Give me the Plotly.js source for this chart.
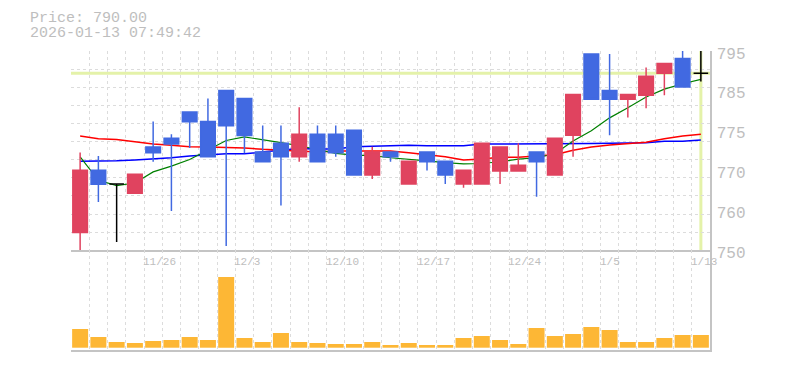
<!DOCTYPE html>
<html><head><meta charset="utf-8">
<script src="https://cdn.plot.ly/plotly-3.0.1.min.js"></script>
<style>html,body{margin:0;padding:0;background:#fff}#chart{width:785px;height:370px}</style>
</head><body><div id="chart"></div>
<script>
const dates = ["2025-11-19","2025-11-20","2025-11-21","2025-11-25","2025-11-26","2025-11-27","2025-11-28",
  "2025-12-01","2025-12-02","2025-12-03","2025-12-04","2025-12-05","2025-12-08","2025-12-09","2025-12-10",
  "2025-12-11","2025-12-12","2025-12-15","2025-12-16","2025-12-17","2025-12-18","2025-12-19","2025-12-22",
  "2025-12-23","2025-12-24","2025-12-25","2025-12-26","2025-12-29","2025-12-30","2026-01-05","2026-01-06",
  "2026-01-07","2026-01-08","2026-01-09","2026-01-13"];
const open  = [754.0,768.1,765.0,762.9,773.3,775.3,781.2,779.1,786.1,784.3,772.2,774.2,771.1,776.2,776.2,777.1,767.0,772.2,765.0,772.2,770.1,765.0,765.0,767.9,767.9,772.2,767.0,776.0,794.3,786.1,784.1,785.0,790.0,793.3,790.0];
const high  = [772.1,771.3,765.0,767.2,779.1,776.2,781.2,784.3,786.1,784.3,778.2,778.2,782.3,778.2,778.2,777.1,773.4,772.2,770.1,772.2,770.1,768.1,774.2,773.3,774.2,772.2,775.3,785.2,794.3,794.3,785.2,791.3,792.2,796.0,796.0];
const low   = [750.0,760.9,751.9,762.9,770.0,758.9,773.1,771.1,751.0,771.9,770.0,760.1,770.0,770.0,771.1,767.0,766.1,770.0,765.0,768.0,765.0,764.1,765.0,765.0,767.9,762.1,767.0,771.1,784.1,776.0,780.0,782.1,785.0,786.9,788.1];
const close = [768.1,764.9,765.0,767.2,772.0,774.0,779.0,771.1,778.1,775.9,770.0,771.1,776.2,770.0,772.0,767.0,772.2,771.1,770.1,770.0,767.0,768.1,774.2,773.3,769.2,770.0,775.3,785.2,784.1,784.1,785.2,789.3,792.2,786.9,790.0];
const volume = [187,107,57,47,67,77,107,77,707,97,57,147,57,47,37,37,57,27,47,27,27,97,117,77,37,197,117,137,207,177,57,57,97,127,127];
const ma5  = [771.1,765.8,764.6,765.2,767.7,769.0,770.5,772.6,774.8,775.6,775.0,774.3,773.6,772.7,771.9,771.5,771.4,770.9,770.6,770.2,769.8,769.5,769.6,770.0,770.6,770.9,771.8,774.7,777.0,779.9,782.2,784.6,786.4,787.6,788.6];
const ma25 = [775.8,775.2,775.0,774.5,774.0,773.7,773.4,773.3,773.2,773.1,772.8,772.6,772.4,772.2,772.4,772.4,772.4,772.4,772.0,771.6,771.1,770.4,770.6,771.0,771.0,771.3,771.6,772.6,773.3,773.8,774.1,774.4,775.2,775.8,776.2];
const ma75 = [770.1,770.1,770.2,770.4,770.6,770.9,771.3,771.6,771.8,771.8,772.2,772.7,773.0,772.9,772.9,773.4,773.5,773.5,773.7,773.6,773.6,773.6,774.0,774.0,774.0,774.0,774.0,774.0,774.1,774.2,774.3,774.3,774.6,774.6,774.9];
const xTickDates = ["2025-11-26","2025-12-03","2025-12-10","2025-12-17","2025-12-24","2026-01-05","2026-01-13"];
const xTickText  = ["11/26","12/3","12/10","12/17","12/24","1/5","1/13"];
const yTickVals  = [795,786,777,768,759,750];
const yTickText  = ["795","785","775","770","760","750"];
const priceText = "Price: 790.00";
const stampText = "2026-01-13 07:49:42";

const RED = '#E0435F', BLUE = '#4169E1', VOL = '#FDB735', GRID = '#DCDCDC', AX = '#C4C4C4', TXT = '#BEBEBE', PALE = '#E4F2A9';
const FONT = 'Liberation Mono, DejaVu Sans Mono, monospace';

function subset(test) {
  const idx = dates.map((d, i) => i).filter(test);
  return {
    x: idx.map(i => dates[i]), open: idx.map(i => open[i]), high: idx.map(i => high[i]),
    low: idx.map(i => low[i]), close: idx.map(i => close[i])
  };
}
function candle(sub, color) {
  return Object.assign({
    type: 'candlestick', xaxis: 'x', yaxis: 'y3', whiskerwidth: 0, hoverinfo: 'skip',
    increasing: { line: { color: color, width: 1.5 }, fillcolor: color },
    decreasing: { line: { color: color, width: 1.5 }, fillcolor: color }
  }, sub);
}
function maLine(vals, color, w) {
  return { type: 'scatter', mode: 'lines', x: dates, y: vals, xaxis: 'x', yaxis: 'y',
    line: { color: color, width: w }, hoverinfo: 'skip' };
}

const traces = [
  maLine(ma75, '#0000FF', 1.5),
  maLine(ma25, '#FF0000', 1.5),
  maLine(ma5, '#008000', 1.2),
  candle(subset(i => close[i] > open[i]), RED),
  candle(subset(i => close[i] < open[i]), BLUE),
  candle(subset(i => close[i] === open[i]), '#000000'),
  { type: 'bar', x: dates, y: volume, xaxis: 'x2', yaxis: 'y2', marker: { color: VOL, line: { width: 0 } }, hoverinfo: 'skip' }
];

const lastDate = dates[dates.length - 1];
const lastClose = close[close.length - 1];
const catAxis = {
  type: 'category', categoryorder: 'array', categoryarray: dates, range: [-0.5, dates.length - 0.5],
  tickson: 'boundaries', tickmode: 'array', tickvals: dates, showticklabels: false,
  showgrid: true, gridcolor: GRID, griddash: '3px,3px', gridwidth: 1,
  ticks: '', showline: true, linecolor: AX, linewidth: 1.5,
  zeroline: false, fixedrange: true, rangeslider: { visible: false }
};

const dateLabels = xTickDates.map((d, k) => ({
  text: xTickText[k], xref: 'x', x: d, xanchor: 'left', xshift: -12,
  yref: 'paper', y: (350 - 262) / 299, yanchor: 'middle', showarrow: false,
  font: { family: FONT, size: 11, color: TXT }
}));

const layout = {
  width: 785, height: 370, margin: { l: 71, r: 75, t: 51, b: 20 },
  paper_bgcolor: '#ffffff', plot_bgcolor: '#ffffff', showlegend: false,
  boxgap: 0.2, boxgroupgap: 0, bargap: 0.124, boxmode: 'overlay',
  xaxis: Object.assign({}, catAxis, { anchor: 'y' }),
  xaxis2: Object.assign({}, catAxis, { anchor: 'y2' }),
  yaxis: {
    domain: [0.3334, 1], anchor: 'x', range: [750, 795], tickmode: 'linear', tick0: 750, dtick: 45 / 11,
    showgrid: true, gridcolor: GRID, griddash: '3px,3px', gridwidth: 1,
    showticklabels: false, ticks: '', zeroline: false, showline: false, fixedrange: true
  },
  yaxis3: {
    overlaying: 'y', anchor: 'x', side: 'right', range: [750, 795],
    tickmode: 'array', tickvals: yTickVals, ticktext: yTickText,
    showgrid: false, zeroline: false, showline: true, linecolor: AX, linewidth: 1.5, ticks: '',
    ticklabelshift: 2, ticklabelstandoff: 2,
    tickfont: { family: FONT, size: 16, color: TXT }, fixedrange: true
  },
  yaxis2: {
    domain: [0, 0.3334], anchor: 'x2', side: 'right', range: [-23, 974],
    showgrid: false, zeroline: false, showline: true, linecolor: AX, linewidth: 1.5,
    showticklabels: false, ticks: '', fixedrange: true
  },
  shapes: [
    { type: 'line', layer: 'below', xref: 'paper', x0: 0, x1: 1, yref: 'y', y0: lastClose, y1: lastClose,
      line: { color: PALE, width: 3 } },
    { type: 'line', layer: 'below', xref: 'x', x0: lastDate, x1: lastDate, yref: 'paper', y0: 0.3334, y1: 1,
      line: { color: PALE, width: 3 } }
  ],
  annotations: [
    { text: priceText, xref: 'paper', yref: 'paper', x: -43 / 639, y: 1 + 33 / 299, xanchor: 'left', yanchor: 'middle',
      showarrow: false, font: { family: FONT, size: 15, color: TXT } },
    { text: stampText, xref: 'paper', yref: 'paper', x: -43 / 639, y: 1 + 18 / 299, xanchor: 'left', yanchor: 'middle',
      showarrow: false, font: { family: FONT, size: 15, color: TXT } }
  ].concat(dateLabels)
};

Plotly.newPlot('chart', traces, layout, { displayModeBar: false, staticPlot: true });
</script>
</body></html>
